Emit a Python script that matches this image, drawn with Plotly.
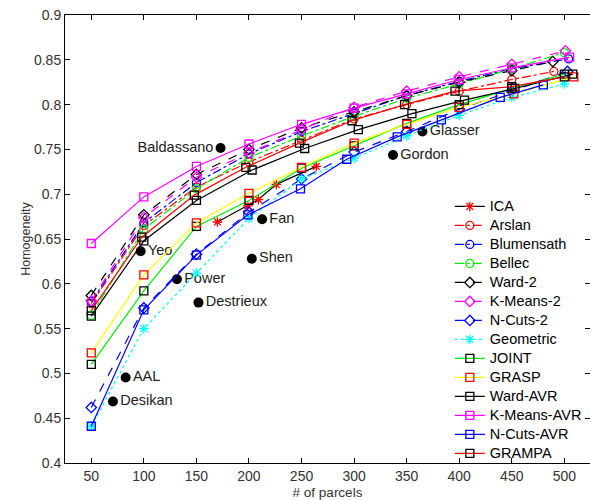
import plotly.graph_objects as go

X_STD = [50, 100, 150, 200, 250, 300, 350, 400, 450, 500]

ica_x = [170, 199, 209, 226, 264]
ica_y = [0.669, 0.687, 0.694, 0.711, 0.731]

arslan_x = [50, 100, 150, 200, 250, 300, 350, 400, 450, 490]
arslan_y = [0.578, 0.665, 0.708, 0.736, 0.760, 0.784, 0.800, 0.815, 0.828, 0.837]

blumensath_x = [50, 100, 150, 200, 250, 300, 350, 400, 450, 504]
blumensath_y = [0.580, 0.668, 0.713, 0.745, 0.770, 0.790, 0.810, 0.826, 0.840, 0.851]

bellec_x = X_STD
bellec_y = [0.565, 0.661, 0.706, 0.741, 0.765, 0.787, 0.807, 0.823, 0.840, 0.858]

ward2_x = [50, 100, 150, 200, 250, 300, 350, 400, 450, 489]
ward2_y = [0.587, 0.677, 0.722, 0.750, 0.774, 0.792, 0.810, 0.825, 0.838, 0.848]

kmeans2_x = [50, 100, 150, 200, 250, 300, 350, 400, 450, 501]
kmeans2_y = [0.581, 0.674, 0.719, 0.746, 0.772, 0.797, 0.815, 0.831, 0.845, 0.860]

ncuts2_x = [50, 100, 150, 200, 250, 300, 350, 400, 450, 503]
ncuts2_y = [0.462, 0.573, 0.633, 0.680, 0.717, 0.747, 0.770, 0.795, 0.815, 0.837]

geometric_x = X_STD
geometric_y = [0.441, 0.550, 0.612, 0.673, 0.717, 0.740, 0.765, 0.788, 0.808, 0.823]

joint_x = X_STD
joint_y = [0.510, 0.592, 0.664, 0.693, 0.729, 0.754, 0.779, 0.800, 0.818, 0.834]

grasp_x = [50, 100, 150, 200, 250, 300, 350, 400, 452, 509]
grasp_y = [0.523, 0.610, 0.668, 0.701, 0.730, 0.757, 0.778, 0.797, 0.812, 0.831]

wardavr_x = [50, 100, 150, 203, 253, 304, 355, 405, 453, 508]
wardavr_y = [0.564, 0.648, 0.693, 0.727, 0.751, 0.772, 0.790, 0.805, 0.818, 0.834]

kmeansavr_x = [50, 100, 150, 200, 250, 300, 350, 400, 450, 505]
kmeansavr_y = [0.645, 0.697, 0.731, 0.756, 0.778, 0.796, 0.812, 0.828, 0.841, 0.853]

ncutsavr_x = [50, 100, 150, 199, 249, 293, 341, 383, 439, 480]
ncutsavr_y = [0.441, 0.571, 0.632, 0.677, 0.706, 0.739, 0.764, 0.783, 0.808, 0.822]

grampa_x = [50, 98, 148, 197, 248, 298, 348, 396, 450, 500]
grampa_y = [0.570, 0.652, 0.699, 0.730, 0.757, 0.782, 0.800, 0.815, 0.820, 0.831]

atlas_names = ["Baldassano", "Yeo", "Power", "Destrieux", "Shen", "Fan",
               "Gordon", "Glasser", "AAL", "Desikan"]
atlas_x = [173, 97, 131.5, 152, 202.7, 212.5, 337, 365, 82.7, 70.6]
atlas_y = [0.7516, 0.6364, 0.605, 0.579, 0.628, 0.672, 0.7437, 0.770, 0.4954, 0.4686]
atlas_textpos = ["middle left"] + ["middle right"] * 9

y_ticks = [0.4, 0.45, 0.5, 0.55, 0.6, 0.65, 0.7, 0.75, 0.8, 0.85, 0.9]
y_ticktext = ["0.4", "0.45", "0.5", "0.55", "0.6", "0.65", "0.7", "0.75", "0.8", "0.85", "0.9"]

series = [
    ("ICA", ica_x, ica_y, "black", "solid", "asterisk-open", "red"),
    ("Arslan", arslan_x, arslan_y, "red", "dashdot", "circle-open", "red"),
    ("Blumensath", blumensath_x, blumensath_y, "blue", "dashdot", "circle-open", "blue"),
    ("Bellec", bellec_x, bellec_y, "#00ee00", "dashdot", "circle-open", "#00ee00"),
    ("Ward-2", ward2_x, ward2_y, "black", "dash", "diamond-open", "black"),
    ("K-Means-2", kmeans2_x, kmeans2_y, "magenta", "dash", "diamond-open", "magenta"),
    ("N-Cuts-2", ncuts2_x, ncuts2_y, "blue", "dash", "diamond-open", "blue"),
    ("Geometric", geometric_x, geometric_y, "cyan", "dot", "asterisk-open", "cyan"),
    ("JOINT", joint_x, joint_y, "#00ee00", "solid", "square-open", "black"),
    ("GRASP", grasp_x, grasp_y, "yellow", "solid", "square-open", "red"),
    ("Ward-AVR", wardavr_x, wardavr_y, "black", "solid", "square-open", "black"),
    ("K-Means-AVR", kmeansavr_x, kmeansavr_y, "magenta", "solid", "square-open", "magenta"),
    ("N-Cuts-AVR", ncutsavr_x, ncutsavr_y, "blue", "solid", "square-open", "blue"),
    ("GRAMPA", grampa_x, grampa_y, "red", "solid", "square-open", "black"),
]

FONT = "Liberation Sans, Arial, sans-serif"

fig = go.Figure()

fig.add_trace(go.Scatter(
    x=atlas_x, y=atlas_y, mode="markers+text", text=atlas_names,
    textposition=atlas_textpos, showlegend=False,
    marker=dict(color="black", size=10),
    textfont=dict(family=FONT, size=14.5, color="#222"),
    cliponaxis=False,
))

for name, xs, ys, lc, dash, sym, mc in series:
    fig.add_trace(go.Scatter(
        x=xs, y=ys, mode="lines+markers",
        name='<span style="font-size:14.5px">' + name + '</span>',
        line=dict(color=lc, width=1.2, dash=dash),
        marker=dict(symbol=sym, size=8, color=mc, line=dict(color=mc, width=1.3)),
    ))

axis_common = dict(
    showline=True, linecolor="black", linewidth=1, mirror="allticks",
    ticks="inside", ticklen=5, tickcolor="black", showgrid=False, zeroline=False,
    tickfont=dict(family=FONT, size=14, color="#333"),
)

fig.update_layout(
    width=590, height=500,
    margin=dict(l=65, r=0, t=15, b=37),
    plot_bgcolor="white", paper_bgcolor="white",
    font=dict(family=FONT, size=13, color="black"),
    xaxis=dict(range=[25, 524.4], tickvals=X_STD,
               title=dict(text="# of parcels", standoff=5,
                          font=dict(size=13.5, color="#333")),
               **axis_common),
    yaxis=dict(range=[0.4, 0.9], tickvals=y_ticks, ticktext=y_ticktext,
               title=dict(text="Homogeneity", standoff=0,
                          font=dict(size=12.5, color="#333")),
               **axis_common),
    legend=dict(x=0.733, y=0.605, xanchor="left", yanchor="top",
                bgcolor="rgba(255,255,255,0)", borderwidth=0,
                font=dict(size=11.2, color="black"), itemwidth=30,
                tracegroupgap=0),
)

fig.write_html("out.html")
